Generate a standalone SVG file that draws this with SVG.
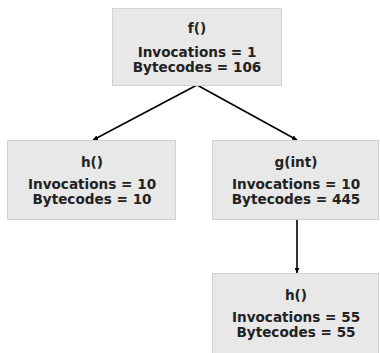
<svg xmlns="http://www.w3.org/2000/svg" width="380" height="353" viewBox="0 0 380 353">
<style>
.box{fill:#e8e8e8;stroke:#d2d2d2;stroke-width:1}
text{font-family:"DejaVu Sans",sans-serif;font-weight:bold;font-size:13.6px;fill:#222;text-anchor:middle}
.edge{stroke:#000;stroke-width:1.6;fill:none}
</style>
<defs>
<marker id="ah" viewBox="0 0 10 10" refX="10" refY="5" markerWidth="5" markerHeight="5" orient="auto" markerUnits="userSpaceOnUse">
<path d="M0,0 L10,5 L0,10 z" fill="#000"/>
</marker>
</defs>
<g id="edges">
<line class="edge" x1="197" y1="85" x2="93" y2="140" marker-end="url(#ah)"/>
<line class="edge" x1="197" y1="85" x2="297" y2="140" marker-end="url(#ah)"/>
<line class="edge" x1="297" y1="220" x2="297" y2="273" marker-end="url(#ah)"/>
</g>
<g id="node-f">
<rect class="box" x="112.5" y="8.5" width="169" height="77"/>
<text x="197" y="33">f()</text>
<text x="197" y="57">Invocations = 1</text>
<text x="197" y="72">Bytecodes = 106</text>
</g>
<g id="node-h1">
<rect class="box" x="7.5" y="140.5" width="168" height="79"/>
<text x="92" y="167">h()</text>
<text x="92" y="189">Invocations = 10</text>
<text x="92" y="204">Bytecodes = 10</text>
</g>
<g id="node-g">
<rect class="box" x="212.5" y="140.5" width="166" height="79"/>
<text x="296" y="167">g(int)</text>
<text x="296" y="189">Invocations = 10</text>
<text x="296" y="204">Bytecodes = 445</text>
</g>
<g id="node-h2">
<rect class="box" x="212.5" y="273.5" width="166" height="80"/>
<text x="296" y="300">h()</text>
<text x="296" y="322">Invocations = 55</text>
<text x="296" y="337">Bytecodes = 55</text>
</g>
</svg>
